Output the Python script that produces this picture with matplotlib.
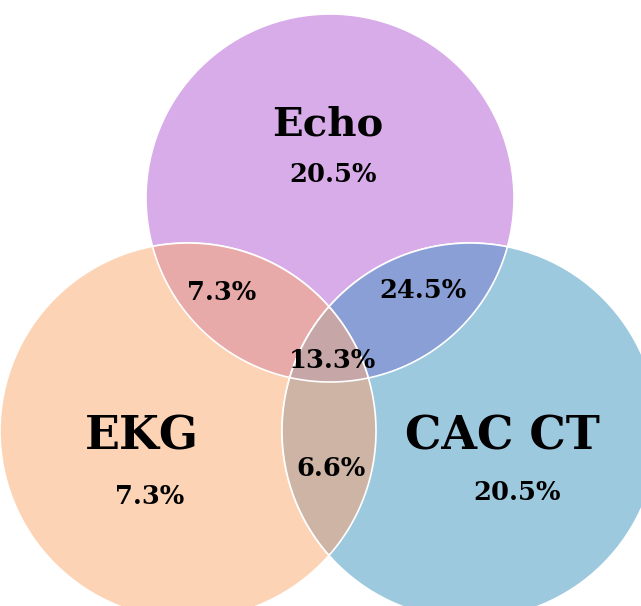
import numpy as np
import matplotlib
matplotlib.use('Agg')
import matplotlib.pyplot as plt
from matplotlib.patches import Circle, Polygon

# data
set_names = ['Echo', 'EKG', 'CAC CT']
only_pct = [20.5, 7.3, 20.5]          # Echo only, EKG only, CAC CT only
pair_names = ['Echo & EKG', 'Echo & CAC CT', 'EKG & CAC CT']
pair_pct = [7.3, 24.5, 6.6]
triple_pct = 13.3

set_colors = ['#d8ace9', '#fdd3b5', '#9dc9df']
pair_colors = ['#e8aaa9', '#8a9fd5', '#cdb4a5']
triple_color = '#c6a6a6'

# layout (pixel coords, y down)
centers = [(330, 198), (188, 431), (470, 431)]
radii = [184, 188, 188]
pairs = [(0, 1), (0, 2), (1, 2)]


def circle_pts(c, r, n=720):
    t = np.linspace(0, 2 * np.pi, n, endpoint=False)
    return np.column_stack([c[0] + r * np.cos(t), c[1] + r * np.sin(t)])


def inside(p, c, r):
    return (p[:, 0] - c[0]) ** 2 + (p[:, 1] - c[1]) ** 2 <= r ** 2 + 1e-6


def region(idx):
    # convex intersection of the circles in idx
    pts = []
    for i in idx:
        p = circle_pts(centers[i], radii[i])
        m = np.ones(len(p), bool)
        for j in idx:
            if j != i:
                m &= inside(p, centers[j], radii[j])
        pts.append(p[m])
    pts = np.vstack(pts)
    mc = pts.mean(axis=0)
    ang = np.arctan2(pts[:, 1] - mc[1], pts[:, 0] - mc[0])
    return pts[np.argsort(ang)]


fig = plt.figure(figsize=(6.41, 6.06), dpi=100)
ax = fig.add_axes([0, 0, 1, 1])
ax.set_xlim(0, 641)
ax.set_ylim(606, 0)
ax.set_aspect('equal')
ax.axis('off')

for c, r, col in zip(centers, radii, set_colors):
    ax.add_patch(Circle(c, r, facecolor=col, edgecolor='white', linewidth=1.2))
for (i, j), col in zip(pairs, pair_colors):
    ax.add_patch(Polygon(region([i, j]), closed=True, facecolor=col, edgecolor='white', linewidth=1.2))
ax.add_patch(Polygon(region([0, 1, 2]), closed=True, facecolor=triple_color, edgecolor='white', linewidth=1.2))

title_font = dict(family='DejaVu Serif', weight='bold', color='black', ha='center', va='center')
pct_font = dict(family='DejaVu Serif', weight='bold', color='black', ha='center', va='center', fontsize=18.5)

name_pos = [(328, 124), (142, 437), (502, 437)]
name_size = [29, 33, 33]
for name, pos, fs in zip(set_names, name_pos, name_size):
    ax.text(pos[0], pos[1], name, fontsize=fs, **title_font)

only_pos = [(333, 174), (150, 497), (517, 493)]
for v, pos in zip(only_pct, only_pos):
    ax.text(pos[0], pos[1], f'{v}%', **pct_font)

pair_pos = [(222, 293), (423, 291), (331, 468)]
for v, pos in zip(pair_pct, pair_pos):
    ax.text(pos[0], pos[1], f'{v}%', **pct_font)

ax.text(333, 360, f'{triple_pct}%', **pct_font)

plt.savefig('out.png', dpi=100)
